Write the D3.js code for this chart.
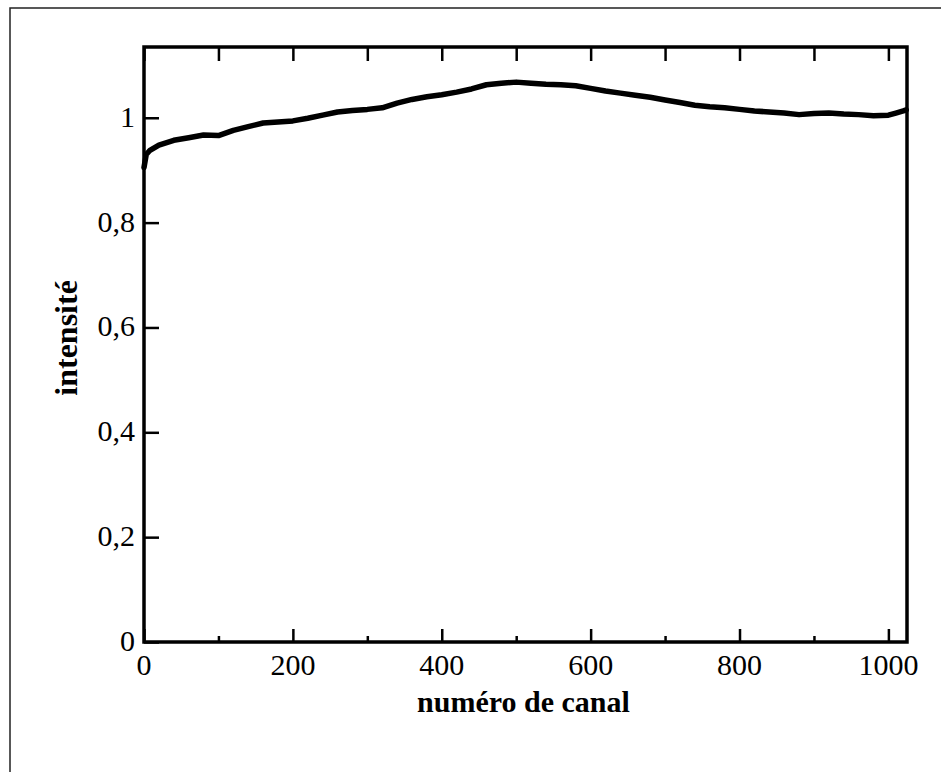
<!DOCTYPE html>
<html>
<head>
<meta charset="utf-8">
<script src="https://cdn.jsdelivr.net/npm/d3@7"></script>
<style>
  body { margin: 0; background: #fff; }
  svg { display: block; }
</style>
</head>
<body>
<svg></svg>
<script>
var channels = [0, 3, 8, 20, 40, 60, 80, 100, 120, 140, 160, 180, 200, 220, 240, 260, 280, 300,
    320, 340, 360, 380, 400, 420, 440, 460, 480, 500, 520, 540, 560, 580, 600, 620, 640, 660,
    680, 700, 720, 740, 760, 780, 800, 820, 840, 860, 880, 900, 920, 940, 960, 980, 1000, 1010,
    1020, 1024];
var intensity = [0.905, 0.93, 0.938, 0.948, 0.957, 0.962, 0.967, 0.966, 0.976, 0.983, 0.99,
    0.992, 0.994, 0.999, 1.005, 1.011, 1.014, 1.016, 1.019, 1.028, 1.035, 1.04, 1.044, 1.049,
    1.055, 1.063, 1.066, 1.068, 1.066, 1.064, 1.063, 1.061, 1.056, 1.051, 1.047, 1.043, 1.039,
    1.034, 1.029, 1.024, 1.021, 1.019, 1.016, 1.013, 1.011, 1.009, 1.006, 1.008, 1.009, 1.007,
    1.006, 1.004, 1.005, 1.009, 1.013, 1.015];

var xMajor = [0, 200, 400, 600, 800, 1000];
var xMinor = [100, 300, 500, 700, 900];
var yTicks = [0, 0.2, 0.4, 0.6, 0.8, 1];
var yLabels = ["0", "0,2", "0,4", "0,6", "0,8", "1"];
var xTitle = "numéro de canal";
var yTitle = "intensité";

var data = channels.map(function (c, i) {
    return { ch: c, v: intensity[i] };
});

var svgWidth = 941, svgHeight = 772;
var margin = { top: 47, right: 34, bottom: 130, left: 144 };
var width = svgWidth - margin.left - margin.right,
    height = svgHeight - margin.top - margin.bottom;
var serif = "'Liberation Serif', 'Times New Roman', serif";

var svg = d3.select('svg')
    .attr('width', svgWidth)
    .attr('height', svgHeight);

// outer frame of the scanned figure (only left and top edges show)
svg.append('path')
    .attr('d', "M10,772V8H941")
    .attr('fill', 'none')
    .attr('stroke', '#222')
    .attr('stroke-width', 1.5);

var g = svg.append('g')
    .attr('transform', "translate(" + margin.left + "," + margin.top + ")");

var x = d3.scaleLinear()
    .domain([0, 1025])
    .range([0, width]);
var y = d3.scaleLinear()
    .domain([0, 1.135])
    .range([height, 0]);

function ticks(axis) {
    return function (sel) {
        sel.call(axis);
        sel.select('.domain').remove();
        sel.selectAll('line').attr('stroke', '#000').attr('stroke-width', 2.5);
    };
}

// inward ticks
g.append('g').attr('transform', "translate(0," + height + ")")
    .call(ticks(d3.axisBottom(x).tickValues(xMajor).tickSize(-13).tickFormat("")));
g.append('g').attr('transform', "translate(0," + height + ")")
    .call(ticks(d3.axisBottom(x).tickValues(xMinor).tickSize(-6).tickFormat("")));
g.append('g')
    .call(ticks(d3.axisTop(x).tickValues(xMajor.concat(xMinor)).tickSize(-14).tickFormat("")));
g.append('g')
    .call(ticks(d3.axisLeft(y).tickValues(yTicks).tickSize(-15).tickFormat("")));

// plot box
g.append('rect')
    .attr('width', width).attr('height', height)
    .attr('fill', 'none')
    .attr('stroke', '#000')
    .attr('stroke-width', 3.5);

// tick labels
g.selectAll('.xlab')
    .data(xMajor)
    .enter().append('text')
    .attr('class', 'xlab')
    .attr('x', d => x(d))
    .attr('y', height + 33)
    .attr('text-anchor', 'middle')
    .attr('font-family', serif)
    .attr('font-size', 30)
    .text(function (d) { return d; });

g.selectAll('.ylab')
    .data(yTicks)
    .enter().append('text')
    .attr('class', 'ylab')
    .attr('x', -9)
    .attr('y', d => y(d) + 9)
    .attr('text-anchor', 'end')
    .attr('font-family', serif)
    .attr('font-size', 30)
    .text(function (d, i) { return yLabels[i]; });

// axis titles
g.append('text')
    .attr('x', width / 2 - 2)
    .attr('y', height + 70)
    .attr('text-anchor', 'middle')
    .attr('font-family', serif)
    .attr('font-weight', 'bold')
    .attr('font-size', 30)
    .text(xTitle);

g.append('text')
    .attr('transform', "translate(-67," + y(0.58) + ") rotate(-90)")
    .attr('text-anchor', 'middle')
    .attr('font-family', serif)
    .attr('font-weight', 'bold')
    .attr('font-size', 32)
    .text(yTitle);

var line = d3.line()
    .x(d => x(d.ch))
    .y(d => y(d.v));

g.append('path')
    .datum(data)
    .attr('fill', 'none')
    .attr('stroke', '#000')
    .attr('stroke-linejoin', 'round')
    .attr('stroke-linecap', 'round')
    .attr('stroke-width', 5.5)
    .attr('d', line);
</script>
</body>
</html>
